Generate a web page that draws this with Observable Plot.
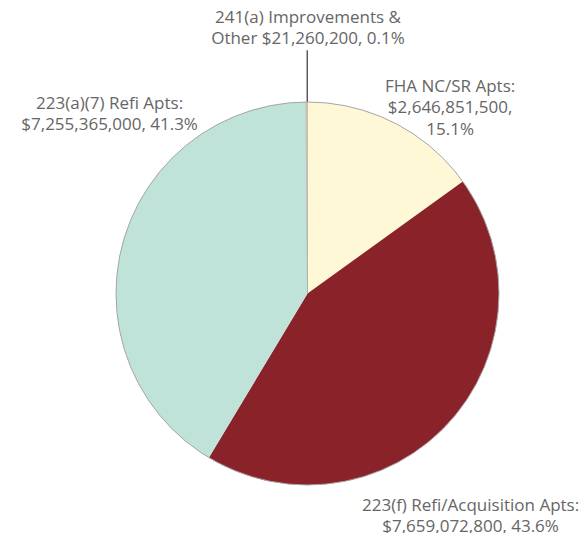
<!DOCTYPE html>
<html><head><meta charset="utf-8">
<script src="https://cdn.jsdelivr.net/npm/d3@7"></script>
<script src="https://cdn.jsdelivr.net/npm/@observablehq/plot@0.6"></script>
<style>body{margin:0;background:#fff}</style>
</head><body><div id="chart"></div>
<script>
// ---- data ----
const categories = ["FHA NC/SR Apts:", "223(f) Refi/Acquisition Apts:", "223(a)(7) Refi Apts:", "241(a) Improvements &"];
const amounts = [2646851500, 7659072800, 7255365000, 21260200];
const percents = [15.1, 43.6, 41.3, 0.1];
const colors = ["#fff8d7", "#8a2329", "#bfe3d9", "#f3c7a3"];

// ---- layout (unit-circle coordinates for label block centres) ----
const labelX = [0.742, 0.849, -1.036, 0.0];
const labelY = [0.979, -1.151, 0.948, 1.397];

const money = d3.format("$,");
const labels = [
  `${categories[0]}\n${money(amounts[0])},\n${percents[0]}%`,
  `${categories[1]}\n${money(amounts[1])}, ${percents[1]}%`,
  `${categories[2]}\n${money(amounts[2])}, ${percents[2]}%`,
  `${categories[3]}\nOther ${money(amounts[3])}, ${percents[3]}%`
];

const data = categories.map((c, i) => ({category: c, amount: amounts[i], color: colors[i], label: labels[i], lx: labelX[i], ly: labelY[i]}));
const arcs = d3.pie().sort(null).value(d => d.amount)(data);
const tiny = arcs[3];
const tinyMid = (tiny.startAngle + tiny.endAngle) / 2;

function pieMark(index, scales) {
  const cx = scales.x(0), cy = scales.y(0);
  const r = scales.x(1) - scales.x(0);
  const g = d3.create("svg:g").attr("transform", `translate(${cx},${cy})`);
  const arc = d3.arc().innerRadius(0).outerRadius(r);
  g.selectAll("path").data(arcs).join("path")
    .attr("d", arc)
    .attr("fill", d => d.data.color)
    .attr("stroke", d => d.index === 3 ? "#9a9a9a" : "none")
    .attr("stroke-width", 0.5);
  g.append("circle").attr("r", r).attr("fill", "none").attr("stroke", "#a5a5a5").attr("stroke-width", 1);
  return g.node();
}

const chart = Plot.plot({
  width: 584,
  height: 533,
  margin: 0,
  x: {domain: [-1, 1], range: [116, 499], axis: null},
  y: {domain: [-1, 1], range: [485, 102], axis: null},
  style: {fontFamily: "'Open Sans', sans-serif", background: "#fff"},
  marks: [
    Plot.ruleX([Math.sin(tinyMid)], {y1: Math.cos(tinyMid), y2: 1.27, stroke: "#5a5a5a", strokeWidth: 1.5}),
    pieMark,
    Plot.text(data, {x: "lx", y: "ly", text: "label", fill: "#666666", fontSize: 17, lineHeight: 1.26})
  ]
});
document.getElementById("chart").append(chart);
</script>
</body></html>
